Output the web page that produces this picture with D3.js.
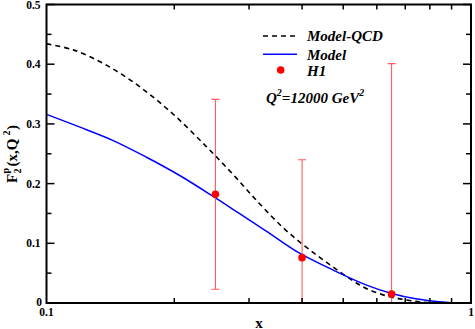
<!DOCTYPE html>
<html>
<head>
<meta charset="utf-8">
<script src="https://cdn.jsdelivr.net/npm/d3@7"></script>
<style>
  body { margin: 0; background: #fff; }
  svg { display: block; }
  text { font-family: "Liberation Serif", "Times New Roman", serif; font-weight: bold; fill: #000; }
</style>
</head>
<body>
<div id="wrapper"></div>
<script>
// Model-QCD (dashed)
var qcdX = [0.100, 0.1156, 0.1387, 0.166, 0.199, 0.238, 0.2754, 0.316, 0.361, 0.40, 0.437, 0.474, 0.520, 0.568, 0.632, 0.706, 0.771, 0.851, 1.0];
var qcdY = [0.434, 0.424, 0.398, 0.362, 0.316, 0.262, 0.215, 0.168, 0.126, 0.099, 0.078, 0.060, 0.040, 0.024, 0.012, 0.005, 0.0015, 0.0, 0.0];
// Model (blue)
var modelX = [0.100, 0.1195, 0.1432, 0.1716, 0.2055, 0.2464, 0.2846, 0.330, 0.3956, 0.4738, 0.5675, 0.6506, 0.741, 0.845, 0.907, 1.0];
var modelY = [0.316, 0.295, 0.2725, 0.2446, 0.214, 0.179, 0.150, 0.120, 0.083, 0.055, 0.030, 0.016, 0.007, 0.002, 0.0, 0.0];
// H1 data
var h1X = [0.25, 0.40, 0.65];
var h1Y = [0.182, 0.076, 0.015];
var h1Err = [0.159, 0.164, 0.386];

var yTicks = [0, 0.1, 0.2, 0.3, 0.4, 0.5];
var yMinor = [0.05, 0.15, 0.25, 0.35, 0.45];
var xMinor = [0.2, 0.3, 0.4, 0.5, 0.6, 0.7, 0.8, 0.9];

var dimension = {
    width: 475,
    height: 329,
    margin: { top: 4.5, right: 4, bottom: 26, left: 46.5 }
};
dimension.boundedWidth = dimension.width - dimension.margin.left - dimension.margin.right;
dimension.boundedHeight = dimension.height - dimension.margin.top - dimension.margin.bottom;

const svg = d3.select("#wrapper").append("svg")
    .attr("width", dimension.width)
    .attr("height", dimension.height);

const x = d3.scaleLog().domain([0.1, 1]).range([0, dimension.boundedWidth]);
const y = d3.scaleLinear().domain([0, 0.5]).range([dimension.boundedHeight, 0]);

const bounds = svg.append("g")
    .attr("transform", `translate(${dimension.margin.left},${dimension.margin.top})`);

svg.append("defs").append("clipPath").attr("id", "clip")
    .append("rect")
    .attr("width", dimension.boundedWidth)
    .attr("height", dimension.boundedHeight);

const plot = bounds.append("g").attr("clip-path", "url(#clip)");

const line = d3.line()
    .x(d => x(d[0]))
    .y(d => y(d[1]))
    .curve(d3.curveCatmullRom.alpha(0.5));

plot.append("path")
    .datum(qcdX.map((v, i) => [v, qcdY[i]]))
    .attr("d", line)
    .attr("fill", "none")
    .attr("stroke", "#000")
    .attr("stroke-width", 1.6)
    .attr("stroke-dasharray", "5,4");

plot.append("path")
    .datum(modelX.map((v, i) => [v, modelY[i]]))
    .attr("d", line)
    .attr("fill", "none")
    .attr("stroke", "#0000ff")
    .attr("stroke-width", 1.5);

// error bars
var h1 = h1X.map((v, i) => ({ x: v, y: h1Y[i], e: h1Err[i] }));
var errColor = "#ff5a5a";
plot.selectAll(".err").data(h1).enter().append("line")
    .attr("x1", d => x(d.x)).attr("x2", d => x(d.x))
    .attr("y1", d => y(d.y - d.e)).attr("y2", d => y(d.y + d.e))
    .attr("stroke", errColor).attr("stroke-width", 1.1);
plot.selectAll(".capT").data(h1).enter().append("line")
    .attr("x1", d => x(d.x) - 4).attr("x2", d => x(d.x) + 4)
    .attr("y1", d => y(d.y + d.e)).attr("y2", d => y(d.y + d.e))
    .attr("stroke", errColor).attr("stroke-width", 1.1);
plot.selectAll(".capB").data(h1).enter().append("line")
    .attr("x1", d => x(d.x) - 4).attr("x2", d => x(d.x) + 4)
    .attr("y1", d => y(d.y - d.e)).attr("y2", d => y(d.y - d.e))
    .attr("stroke", errColor).attr("stroke-width", 1.1);
plot.selectAll(".pt").data(h1).enter().append("circle")
    .attr("cx", d => x(d.x)).attr("cy", d => y(d.y))
    .attr("r", 3.8).attr("fill", "#ff0000");

// frame and ticks
const ax = bounds.append("g");
ax.append("rect")
    .attr("width", dimension.boundedWidth)
    .attr("height", dimension.boundedHeight)
    .attr("fill", "none")
    .attr("stroke", "#000")
    .attr("stroke-width", 2);

const W = dimension.boundedWidth, H = dimension.boundedHeight;
function tick(x1, y1, x2, y2) {
    ax.append("line").attr("x1", x1).attr("y1", y1).attr("x2", x2).attr("y2", y2)
        .attr("stroke", "#000").attr("stroke-width", 1.5);
}
yTicks.forEach(v => { tick(0, y(v), 8, y(v)); tick(W, y(v), W - 8, y(v)); });
yMinor.forEach(v => { tick(0, y(v), 5, y(v)); tick(W, y(v), W - 5, y(v)); });
xMinor.forEach(v => { tick(x(v), H, x(v), H - 5); tick(x(v), 0, x(v), 5); });

// tick labels
bounds.selectAll(".ylab").data(yTicks).enter().append("text")
    .attr("x", d => d === 0 ? -4.5 : -6)
    .attr("y", d => d === 0 ? y(d) - 1.5 : y(d))
    .attr("dy", "0.35em")
    .attr("text-anchor", "end")
    .style("font-size", "11.5px")
    .text(d => d3.format("")(d));

bounds.selectAll(".xlab").data([0.1, 1]).enter().append("text")
    .attr("x", d => x(d))
    .attr("y", H + 12.5)
    .attr("text-anchor", "middle")
    .style("font-size", "11.5px")
    .text(d => d);

svg.append("text")
    .attr("x", 259).attr("y", 327.5)
    .attr("text-anchor", "middle")
    .style("font-size", "15px")
    .text("x");

// y axis label
const yl = svg.append("g").attr("transform", "translate(17,183) rotate(-90)");
yl.append("text").attr("x", 0).attr("y", 0).style("font-size", "15px").text("F");
yl.append("text").attr("x", 9.5).attr("y", 4).style("font-size", "10px").text("2");
yl.append("text").attr("x", 9.5).attr("y", -8).style("font-size", "10px").text("p");
yl.append("text").attr("x", 16.5).attr("y", 0).style("font-size", "15px").text("(x,Q");
yl.append("text").attr("x", 47.5).attr("y", -7).style("font-size", "10px").text("2");
yl.append("text").attr("x", 53).attr("y", 0).style("font-size", "15px").text(")");

// legend
const lg = svg.append("g");
lg.append("line").attr("x1", 263).attr("x2", 297).attr("y1", 36).attr("y2", 36)
    .attr("stroke", "#000").attr("stroke-width", 1.6).attr("stroke-dasharray", "5,4");
lg.append("text").attr("x", 307).attr("y", 41).style("font-size", "15px").style("font-style", "italic").text("Model-QCD");
lg.append("line").attr("x1", 263).attr("x2", 297).attr("y1", 54.3).attr("y2", 54.3)
    .attr("stroke", "#0000ff").attr("stroke-width", 1.5);
lg.append("text").attr("x", 307).attr("y", 59.5).style("font-size", "15px").style("font-style", "italic").text("Model");
lg.append("circle").attr("cx", 280.7).attr("cy", 70).attr("r", 3.8).attr("fill", "#ff0000");
lg.append("text").attr("x", 307).attr("y", 75.5).style("font-size", "15px").style("font-style", "italic").text("H1");

const q = lg.append("text").attr("x", 266).attr("y", 103).style("font-size", "15px").style("font-style", "italic");
q.append("tspan").text("Q");
q.append("tspan").attr("dy", -7).style("font-size", "10px").text("2");
q.append("tspan").attr("dy", 7).text("=12000 GeV");
q.append("tspan").attr("dy", -7).style("font-size", "10px").text("2");
</script>
</body>
</html>
